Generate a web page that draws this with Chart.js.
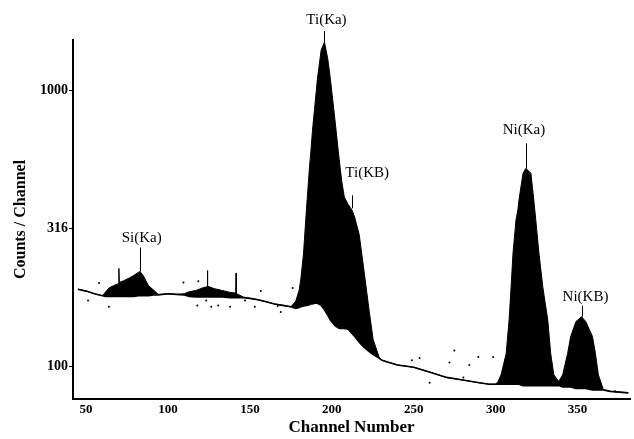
<!DOCTYPE html>
<html>
<head>
<meta charset="utf-8">
<script src="https://cdn.jsdelivr.net/npm/chart.js"></script>
<style>
  html, body { margin: 0; padding: 0; background: #fff; }
  canvas { display: block; }
</style>
</head>
<body>
<canvas id="spectrum" width="634" height="439"></canvas>
<script>
var channels = [
    45, 50, 55, 60, 62, 64, 67, 69.8, 70, 70.3, 73, 76, 79, 82, 83, 85, 88, 91, 94,
    100, 105, 110, 113, 117, 121, 123.8, 124, 124.3, 128, 133, 138, 141.3, 141.5, 141.8, 146, 150, 155, 160, 165, 170, 175,
    178, 180, 181, 182.7, 184.5, 186.4, 187, 188.2, 189.4, 191.2, 193.5, 195.5, 197.5, 199.1, 202.1, 204.5, 206, 207.6,
    210, 212.4, 214, 216.7, 219.7, 222.7, 225.2, 228.8, 230.6,
    235, 240, 250, 260, 270, 280, 290, 296, 300,
    301.5, 303.3, 306.4, 308.2, 309.4, 310.6, 312.4, 313.6, 314.2, 316.7, 318.5, 321.5, 323.3, 324.5, 326.4, 328.8,
    331.8, 333.6, 335.5, 338.5,
    340.9, 343.9, 345.8, 349, 352.4, 355, 359.1, 360.9, 362.7, 365.8, 370, 381
];

// measured spectrum (top of the black area)
var counts = [
    190, 187, 183, 180, 186, 192, 196, 199, 226, 201, 204, 208, 213, 219, 220, 212, 196, 189, 182,
    183, 182, 183, 186, 188, 192, 194, 222, 195, 191, 188, 185, 184, 217, 183, 178, 176, 174, 171, 168, 166, 164,
    172, 188, 205, 255, 370, 530, 580, 716, 850, 1100, 1400, 1493, 1300, 1100, 760, 560, 470, 410,
    385, 367, 345, 300, 220, 160, 125, 108, 105,
    103, 101, 99, 95, 91, 89, 87, 86, 86,
    88, 93, 111, 147, 193, 257, 338, 370, 399, 500, 521, 500, 399, 338, 257, 193,
    147, 111, 93, 88,
    93, 111, 128, 145, 151, 145, 128, 111, 93, 82, 81, 80
];

// lower trace (bottom of the black area)
var background = [
    190, 187, 183, 180, 179, 179, 179, 179, 179, 179, 179, 179, 179, 180, 180, 180, 180, 181, 181,
    183, 182, 181, 179, 178, 178, 178, 178, 178, 178, 178, 177, 177, 177, 177, 177, 176, 174, 171, 168, 166, 164,
    162, 163, 164, 165, 166, 167, 168, 168, 169, 169, 166, 160, 153, 147, 140, 137, 137, 137,
    136, 131, 128, 122, 117, 113, 110, 107, 105,
    103, 101, 99, 95, 91, 89, 87, 86, 86,
    86, 86, 86, 86, 86, 86, 86, 86, 86, 85, 85, 85, 85, 85, 85, 85,
    85, 85, 85, 85,
    84, 84, 84, 83, 83, 83, 82, 82, 82, 82, 81, 80
];

// stray counts scattered around the trace
var noiseChannels = [51.2, 57.9, 63.9, 109.4, 117.9, 118.5, 123.3, 126.4, 130.6, 137.9, 147, 153, 156.7, 167, 168.8, 176.1,
    248.8, 253.6, 259.7, 271.8, 274.8, 280.3, 283.9, 289.4, 298.5, 373];
var noiseCounts = [173, 200, 164, 201, 166, 203, 173, 164, 166, 164, 173, 164, 187, 165, 157, 192,
    105, 107, 87, 103, 114, 91, 101, 108, 108, 81];

var xTicks = [50, 100, 150, 200, 250, 300, 350];
var yTicks = [100, 316, 1000];

var peakNames = ["Si(Ka)", "Ti(Ka)", "Ti(KB)", "Ni(Ka)", "Ni(KB)"];
var peakChannels = [82.7, 195.5, 212.4, 318.5, 352.4];
var peakCounts = [220, 1493, 367, 521, 151];

document.addEventListener("DOMContentLoaded", () => {

    var serif = "'Liberation Serif', 'DejaVu Serif', serif";

    function pts(xs, ys) {
        return xs.map((x, i) => ({ x: x, y: ys[i] }));
    }

    // label offsets: [dx text, dy text, leader top, leader bottom] in px from the peak
    var labelPos = [
        [2, -34, -24, 0],
        [2, -22, -11, 0],
        [15, -37, -15, -2],
        [-2, -38, -25, 0],
        [4, -20, -11, 0]
    ];

    var peakLabels = {
        id: "peakLabels",
        afterDatasetsDraw(chart) {
            var ctx = chart.ctx;
            var xs = chart.scales.x, ys = chart.scales.y;
            ctx.save();
            ctx.fillStyle = "#000";
            ctx.strokeStyle = "#000";
            ctx.lineWidth = 1;
            ctx.font = "15px " + serif;
            ctx.textAlign = "center";
            ctx.textBaseline = "middle";
            peakNames.forEach((name, i) => {
                var px = xs.getPixelForValue(peakChannels[i]);
                var py = ys.getPixelForValue(peakCounts[i]);
                var o = labelPos[i];
                ctx.beginPath();
                ctx.moveTo(Math.round(px) + 0.5, py + o[3]);
                ctx.lineTo(Math.round(px) + 0.5, py + o[2]);
                ctx.stroke();
                ctx.fillText(name, px + o[0], py + o[1]);
            });
            ctx.restore();
        }
    };

    new Chart("spectrum", {
    type: "line",
    data: {
        datasets: [{
            data: pts(channels, counts),
            borderColor: "#000",
            backgroundColor: "#000",
            borderWidth: 1,
            pointRadius: 0,
            fill: "+1"
        }, {
            data: pts(channels, background),
            borderColor: "#000",
            borderWidth: 1.6,
            pointRadius: 0,
            fill: false
        }, {
            data: pts(noiseChannels, noiseCounts),
            showLine: false,
            pointRadius: 1,
            pointBackgroundColor: "#000",
            pointBorderWidth: 0
        }]
    },
    options: {
        responsive: false,
        animation: false,
        events: [],
        layout: { padding: { top: 40, right: 1, left: 0, bottom: 0 } },
        plugins: {
            legend: { display: false },
            tooltip: { enabled: false }
        },
        scales: {
            x: {
                type: "linear",
                min: 42,
                max: 382,
                afterBuildTicks: (s) => { s.ticks = xTicks.map(v => ({ value: v })); },
                afterFit: (s) => { s.height = 40; },
                grid: { display: false, drawTicks: false },
                border: { display: true, color: "#000", width: 2 },
                ticks: { color: "#000", padding: 3, font: { family: serif, size: 13, weight: "bold" } },
                title: {
                    display: true,
                    text: "Channel Number",
                    color: "#000",
                    padding: { top: 0, bottom: 1 },
                    font: { family: serif, size: 17, weight: "bold" }
                }
            },
            y: {
                type: "logarithmic",
                min: 76,
                max: 1520,
                afterBuildTicks: (s) => { s.ticks = yTicks.map(v => ({ value: v })); },
                afterFit: (s) => { s.width = 73; },
                grid: { drawOnChartArea: false, drawTicks: true, tickLength: 4, color: "#000" },
                border: { display: true, color: "#000", width: 2 },
                ticks: {
                    color: "#000",
                    padding: 1,
                    font: { family: serif, size: 14, weight: "bold" },
                    callback: (v) => String(v)
                },
                title: {
                    display: true,
                    text: "Counts / Channel",
                    color: "#000",
                    padding: { top: 11, bottom: 0 },
                    font: { family: serif, size: 16, weight: "bold" }
                }
            }
        }
    },
    plugins: [peakLabels]
    });

});
</script>
</body>
</html>
